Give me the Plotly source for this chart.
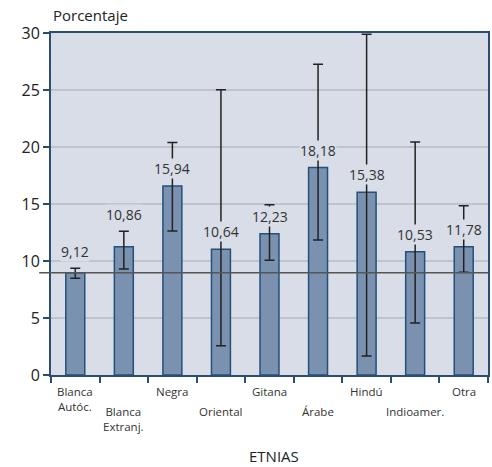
import plotly.graph_objects as go

categories = ["Blanca Autóc.", "Blanca Extranj.", "Negra", "Oriental", "Gitana",
              "Árabe", "Hindú", "Indioamer.", "Otra"]
tick_text = ["Blanca<br>Autóc.", "Blanca<br>Extranj.", "Negra", "Oriental", "Gitana",
             "Árabe", "Hindú", "Indioamer.", "Otra"]
bar_values = [8.97, 11.25, 16.58, 11.02, 12.4, 18.2, 16.02, 10.82, 11.25]
upper = [9.36, 12.6, 20.4, 25.03, 14.94, 27.25, 29.9, 20.44, 14.85]
lower = [8.48, 9.3, 12.63, 2.57, 10.06, 11.84, 1.67, 4.56, 9.01]
value_labels = ["9,12", "10,86", "15,94", "10,64", "12,23", "18,18", "15,38", "10,53", "11,78"]
reference_value = 8.97
y_ticks = [0, 5, 10, 15, 20, 25, 30]

PLOT_BG = "#d8dde7"
BAR_FILL = "#7a92b0"
BAR_LINE = "#23507a"
AXIS = "#2a4d72"
FONT = "Open Sans"

err_plus = [u - v for u, v in zip(upper, bar_values)]
err_minus = [v - l for v, l in zip(bar_values, lower)]

fig = go.Figure()
fig.add_trace(go.Bar(
    x=categories, y=bar_values, width=0.39,
    marker=dict(color=BAR_FILL, line=dict(color=BAR_LINE, width=1.5)),
    error_y=dict(type="data", symmetric=False, array=err_plus, arrayminus=err_minus,
                 color="#222222", thickness=1.5, width=5),
    hoverinfo="skip",
))

annotations = []
for i, (c, v, u, lab) in enumerate(zip(categories, bar_values, upper, value_labels)):
    if u - v < 2:
        ya, ys = u, 6
    else:
        ya, ys = v, 7
    annotations.append(dict(x=c, y=ya, xref="x", yref="y", text=lab, showarrow=False,
                            yanchor="bottom", yshift=ys, bgcolor=PLOT_BG, borderpad=0,
                            font=dict(family=FONT, size=14, color="#333333")))
    row2 = i % 2 == 1
    annotations.append(dict(x=c, y=0, xref="x", yref="paper", text=tick_text[i],
                            showarrow=False, yanchor="top", yshift=-7 if not row2 else -27,
                            align="center",
                            font=dict(family=FONT, size=11.5, color="#333333")))

annotations.append(dict(x=0, y=1, xref="paper", yref="paper", text="Porcentaje",
                        showarrow=False, xanchor="left", yanchor="bottom", yshift=6,
                        font=dict(family=FONT, size=15, color="#222222")))
annotations.append(dict(x=0.5, y=0, xref="paper", yref="paper", text="ETNIAS",
                        showarrow=False, xanchor="center", yanchor="top", yshift=-69, xshift=4,
                        font=dict(family=FONT, size=15, color="#222222")))

fig.add_shape(type="line", xref="paper", yref="y", x0=-0.027, x1=1,
              y0=reference_value, y1=reference_value,
              line=dict(color="#555555", width=1.5), layer="above")

fig.update_layout(
    width=492, height=467,
    margin=dict(l=51, r=2, t=33, b=92),
    plot_bgcolor=PLOT_BG, paper_bgcolor="white",
    showlegend=False,
    annotations=annotations,
    bargap=0.6,
)
fig.update_xaxes(
    type="category", showticklabels=False, tickson="boundaries",
    ticks="outside", ticklen=6, tickcolor=AXIS, tickwidth=1.5,
    showline=True, linecolor=AXIS, linewidth=2, mirror=True,
    showgrid=False,
)
fig.update_yaxes(
    range=[0, 30], tickvals=y_ticks, ticks="outside", ticklen=6, tickcolor=AXIS,
    tickwidth=1.5, showline=True, linecolor=AXIS, linewidth=2, mirror=True,
    showgrid=True, gridcolor="#bfc3cb", gridwidth=1.5, zeroline=False,
    tickfont=dict(family=FONT, size=16, color="#222222"),
)

fig.write_html("out.html", config={"displayModeBar": False},
               post_script="document.body.style.margin='0';document.body.style.overflow='hidden';")
